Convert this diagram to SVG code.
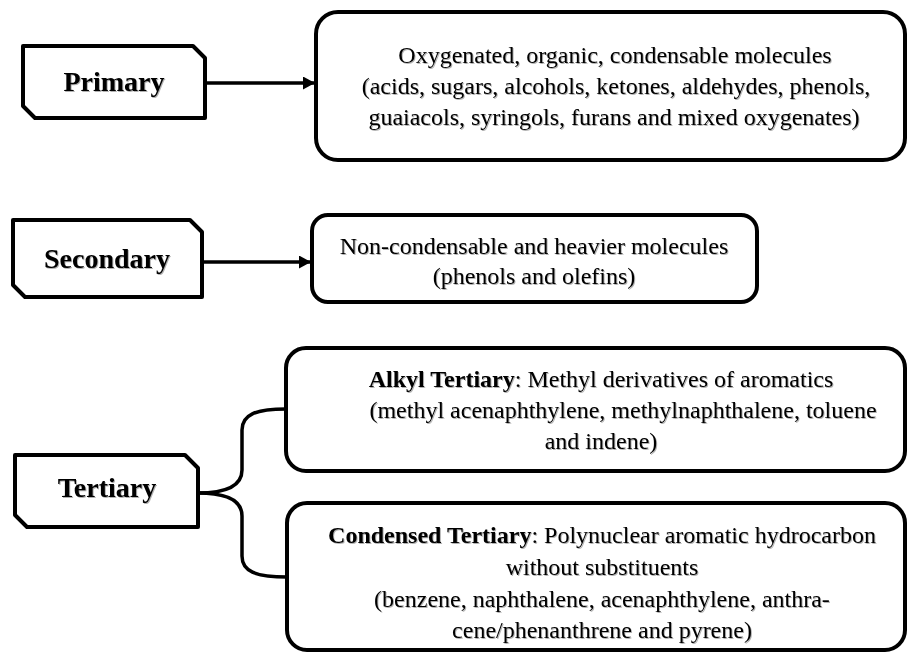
<svg xmlns="http://www.w3.org/2000/svg" width="908" height="654" viewBox="0 0 908 654">
<defs>
<style>
.box{fill:#fff;stroke:#000;stroke-width:4;stroke-linejoin:round}
.lbl{font-family:"Liberation Serif","Times New Roman",serif;font-size:28px;font-weight:bold;fill:#000;text-anchor:middle}
.txt{font-family:"Liberation Serif","Times New Roman",serif;font-size:24px;fill:#000;text-anchor:middle}
.con{fill:none;stroke:#000;stroke-width:3.5}
.b{font-weight:bold}
</style>
<filter id="sh" x="-5%" y="-20%" width="110%" height="140%">
<feDropShadow dx="1" dy="1" stdDeviation="0.6" flood-color="#000" flood-opacity="0.3"/>
</filter>
<marker id="arr" markerUnits="userSpaceOnUse" markerWidth="13" markerHeight="13" refX="12" refY="6.5" orient="auto">
<path d="M0,0 L12,6.5 L0,13 z" fill="#000"/>
</marker>
</defs>
<g id="connectors">
<line class="con" x1="205" y1="83" x2="315" y2="83" marker-end="url(#arr)"/>
<line class="con" x1="202" y1="262" x2="311" y2="262" marker-end="url(#arr)"/>
<path class="con" d="M198,493 C225,493 242,486 242,470 L242,430 C242,415 255,409 286,409"/>
<path class="con" d="M198,493 C225,493 242,500 242,516 L242,556 C242,571 255,577 287,577"/>
</g>
<g id="primary">
<polygon class="box" points="23,46 193,46 205,58 205,118 35,118 23,106"/>
<text class="lbl" x="114" y="91" filter="url(#sh)">Primary</text>
</g>
<g id="primary-products">
<rect class="box" x="316" y="12" width="589" height="148" rx="22"/>
<g class="txt" filter="url(#sh)">
<text class="txt" x="615" y="63">Oxygenated, organic, condensable molecules</text>
<text class="txt" x="616" y="94">(acids, sugars, alcohols, ketones, aldehydes, phenols,</text>
<text class="txt" x="614" y="125">guaiacols, syringols, furans and mixed oxygenates)</text>
</g>
</g>
<g id="secondary">
<polygon class="box" points="13,220 190,220 202,232 202,297 25,297 13,285"/>
<text class="lbl" x="107" y="268" filter="url(#sh)">Secondary</text>
</g>
<g id="secondary-products">
<rect class="box" x="312" y="215" width="445" height="87" rx="16"/>
<g filter="url(#sh)">
<text class="txt" x="534" y="254">Non-condensable and heavier molecules</text>
<text class="txt" x="534" y="284">(phenols and olefins)</text>
</g>
</g>
<g id="tertiary">
<polygon class="box" points="15,455 185,455 198,468 198,527 27,527 15,515"/>
<text class="lbl" x="107" y="497" filter="url(#sh)">Tertiary</text>
</g>
<g id="alkyl-tertiary">
<rect class="box" x="286" y="348" width="619" height="123" rx="20"/>
<g filter="url(#sh)">
<text class="txt" x="601" y="387"><tspan class="b">Alkyl Tertiary</tspan>: Methyl derivatives of aromatics</text>
<text class="txt" x="623" y="418">(methyl acenaphthylene, methylnaphthalene, toluene</text>
<text class="txt" x="601" y="449">and indene)</text>
</g>
</g>
<g id="condensed-tertiary">
<rect class="box" x="287" y="503" width="618" height="147" rx="20"/>
<g filter="url(#sh)">
<text class="txt" x="602" y="543"><tspan class="b">Condensed Tertiary</tspan>: Polynuclear aromatic hydrocarbon</text>
<text class="txt" x="602" y="575">without substituents</text>
<text class="txt" x="602" y="607">(benzene, naphthalene, acenaphthylene, anthra-</text>
<text class="txt" x="602" y="638">cene/phenanthrene and pyrene)</text>
</g>
</g>
</svg>
